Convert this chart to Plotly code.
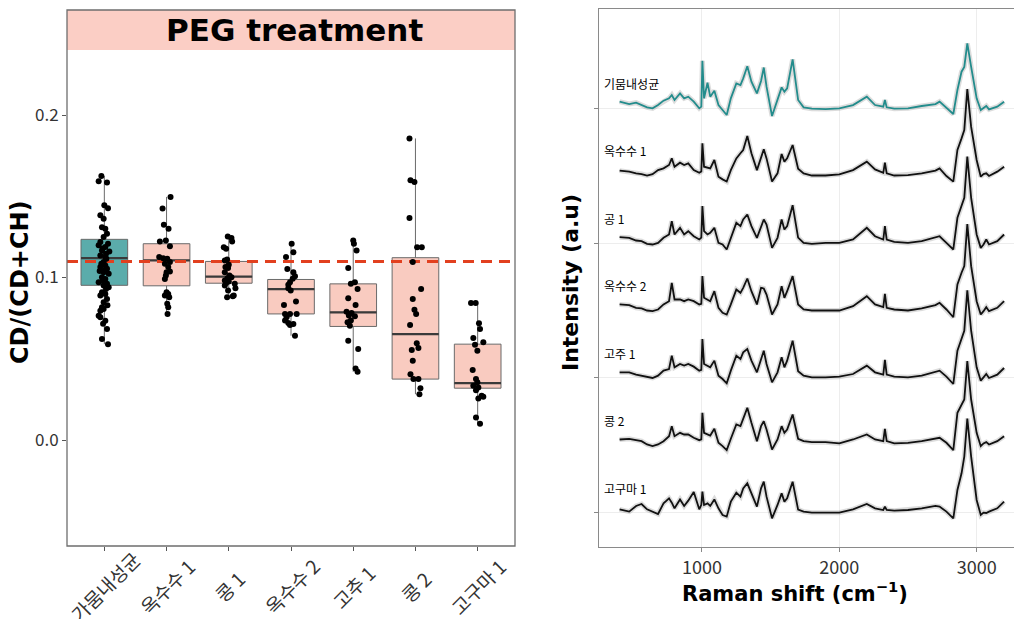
import plotly.graph_objects as go

W, H = 1014, 619

# ---------------- Left panel data (CD/(CD+CH)) ----------------
groups = ["가뭄내성균", "옥수수 1", "콩 1", "옥수수 2", "고추 1", "콩 2", "고구마 1"]
q1 = [0.0952, 0.0949, 0.0965, 0.0776, 0.0699, 0.0375, 0.0319]
median = [0.1119, 0.1105, 0.1006, 0.0928, 0.0786, 0.0652, 0.0350]
q3 = [0.1235, 0.1208, 0.1099, 0.0988, 0.0961, 0.1122, 0.0590]
lower_whisker = [0.0590, 0.0776, 0.0879, 0.0642, 0.0420, 0.0282, 0.0101]
upper_whisker = [0.1625, 0.1496, 0.1253, 0.1208, 0.1228, 0.1856, 0.0844]
threshold = 0.1098

vals_1 = [0.1625, 0.1593, 0.1585, 0.1444, 0.1427, 0.1383, 0.1362, 0.1310, 0.1300, 0.1270,
          0.1249, 0.1218, 0.1208, 0.1198, 0.1188, 0.1167, 0.1146, 0.1136, 0.1126, 0.1095,
          0.1074, 0.1064, 0.1054, 0.1033, 0.1023, 0.1002, 0.0991, 0.0971, 0.0961, 0.0951,
          0.0940, 0.0909, 0.0899, 0.0889, 0.0868, 0.0848, 0.0817, 0.0796, 0.0807, 0.0765,
          0.0734, 0.0755, 0.0683, 0.0621, 0.0590, 0.1178, 0.1115, 0.1085, 0.1043, 0.0981,
          0.0930, 0.1160, 0.1040, 0.0830, 0.0715]
jit_1 = [-0.048, -0.091, 0.043, 0.000, 0.059, -0.064, -0.011, -0.038, 0.016, 0.043,
         -0.011, -0.064, 0.059, -0.091, 0.016, -0.038, 0.027, -0.064, 0.016, -0.011,
         0.016, -0.064, 0.043, -0.011, 0.070, -0.038, 0.016, -0.091, 0.043, -0.011,
         0.070, -0.038, 0.016, -0.064, 0.043, -0.011, -0.038, -0.064, -0.011, -0.091,
         0.016, -0.064, 0.043, -0.038, 0.059, -0.027, 0.032, -0.048, 0.005, -0.027,
         0.027, 0.080, -0.075, 0.050, -0.020]

vals_2 = [0.1496, 0.1424, 0.1325, 0.1300, 0.1228, 0.1222, 0.1193, 0.1126, 0.1119, 0.1115,
          0.1095, 0.1084, 0.1064, 0.1033, 0.1037, 0.1012, 0.0991, 0.0909, 0.0899, 0.0889,
          0.0879, 0.0838, 0.0817, 0.0776]
jit_2 = [0.064, -0.064, -0.043, 0.032, -0.011, -0.107, 0.054, -0.118, -0.054, 0.011,
         0.054, -0.027, 0.027, 0.000, 0.054, -0.011, -0.027, 0.000, 0.027, -0.027,
         0.043, 0.011, 0.027, 0.016]

vals_3 = [0.1253, 0.1243, 0.1222, 0.1187, 0.1177, 0.1105, 0.1111, 0.1078, 0.1064, 0.1058,
          0.1033, 0.1012, 0.1002, 0.0996, 0.0981, 0.0975, 0.0967, 0.0961, 0.0951, 0.0934,
          0.0920, 0.0879, 0.0885, 0.0889]
jit_3 = [-0.016, 0.043, 0.054, -0.080, -0.043, -0.064, -0.027, 0.000, -0.054, -0.011,
         -0.064, 0.011, 0.043, -0.021, -0.064, 0.000, -0.043, 0.096, -0.064, 0.107,
         -0.011, -0.027, 0.064, 0.080]

vals_4 = [0.1208, 0.1156, 0.1126, 0.1053, 0.1033, 0.1008, 0.0992, 0.0971, 0.0955, 0.0934,
          0.0920, 0.0852, 0.0831, 0.0776, 0.0776, 0.0776, 0.0755, 0.0735, 0.0720, 0.0714,
          0.0708, 0.0642]
jit_4 = [0.011, 0.038, -0.080, -0.059, 0.038, 0.064, 0.027, -0.016, -0.043, -0.043,
         -0.005, 0.080, -0.113, -0.096, -0.016, 0.091, -0.070, -0.096, -0.043, 0.038,
         -0.016, 0.064]

vals_5 = [0.1228, 0.1208, 0.1167, 0.1058, 0.0971, 0.0961, 0.0930, 0.0872, 0.0831, 0.0790,
          0.0782, 0.0766, 0.0762, 0.0735, 0.0725, 0.0704, 0.0611, 0.0560, 0.0440, 0.0420]
jit_5 = [0.000, 0.011, 0.054, -0.080, 0.027, -0.038, 0.070, -0.080, 0.038, -0.107,
         -0.027, -0.070, 0.027, -0.038, -0.091, -0.054, -0.080, 0.080, 0.038, 0.070]

vals_6 = [0.1856, 0.1599, 0.1588, 0.1366, 0.1187, 0.1187, 0.1095, 0.0930, 0.0868, 0.0801,
          0.0776, 0.0708, 0.0595, 0.0566, 0.0554, 0.0488, 0.0405, 0.0375, 0.0375, 0.0319,
          0.0282]
jit_6 = [-0.096, -0.080, -0.016, -0.096, 0.027, 0.102, -0.043, 0.091, -0.043, -0.016,
         0.011, -0.086, 0.021, 0.048, -0.059, -0.043, -0.080, -0.032, 0.048, 0.080,
         0.064]

vals_7 = [0.0844, 0.0844, 0.0719, 0.0684, 0.0628, 0.0602, 0.0587, 0.0550, 0.0431, 0.0375,
          0.0355, 0.0334, 0.0323, 0.0307, 0.0272, 0.0266, 0.0256, 0.0138, 0.0101]
jit_7 = [-0.107, -0.032, 0.021, 0.038, -0.070, 0.091, -0.043, -0.005, -0.080, -0.027,
         -0.005, -0.070, 0.011, -0.027, 0.064, 0.091, 0.011, -0.027, 0.038]

point_vals = [vals_1, vals_2, vals_3, vals_4, vals_5, vals_6, vals_7]
point_jit = [jit_1, jit_2, jit_3, jit_4, jit_5, jit_6, jit_7]

# ---------------- Right panel data (Raman spectra) ----------------
raman_shift = [400, 470, 520, 560, 600, 640, 680, 720, 760, 780, 800, 840, 870, 900, 940, 980,
               995, 1003, 1015, 1040, 1060, 1090, 1120, 1150, 1180, 1210,
               1250, 1280, 1300, 1330, 1360, 1400, 1430, 1450, 1470, 1510,
               1550, 1580, 1600, 1620, 1660, 1700, 1740, 1800, 1900, 2000,
               2100, 2200, 2260, 2320, 2332, 2345, 2400, 2500, 2600, 2700,
               2730, 2780, 2830, 2860, 2890, 2910, 2932, 2960, 3000, 3030,
               3050, 3070, 3090, 3150, 3200]

spec_names = ["기뭄내성균", "옥수수 1", "공 1", "옥수수 2", "고주 1", "콩 2", "고구마 1"]
spec_offsets = [6, 5, 4, 3, 2, 1, 0]

spec_drought = [0.094, 0.059, 0.079, 0.044, 0.010, -0.005, 0.044, 0.109, 0.143, 0.193, 0.119, 0.217, 0.143, 0.168, 0.094, -0.005,
                0.020, 0.700, 0.143, 0.375, 0.168, 0.257, 0.044, -0.030, -0.104, 0.143,
                0.365, 0.340, 0.440, 0.620, 0.390, 0.217, 0.400, 0.600, 0.316, -0.119,
                0.119, 0.306, 0.242, 0.291, 0.720, 0.120, 0.010, -0.010, -0.015, -0.005,
                0.044, 0.168, 0.044, 0.020, 0.119, 0.010, -0.010, -0.005, 0.030, 0.059,
                0.094, -0.005, -0.089, 0.267, 0.538, 0.610, 0.958, 0.610, 0.143, -0.030,
                -0.005, 0.030, -0.020, 0.020, 0.094]
spec_corn1 = [0.072, 0.057, 0.032, 0.022, 0.000, 0.020, 0.080, 0.106, 0.156, 0.254, 0.130, 0.190, 0.156, 0.180, 0.080, 0.040,
              0.060, 0.477, 0.130, 0.120, 0.106, 0.230, -0.017, -0.057, -0.090, 0.080,
              0.254, 0.330, 0.378, 0.585, 0.330, 0.080, 0.280, 0.388, 0.254, -0.090,
              0.032, 0.318, 0.205, 0.254, 0.452, 0.100, 0.032, 0.000, 0.000, 0.017,
              0.080, 0.205, 0.090, 0.040, 0.190, 0.032, 0.000, 0.007, 0.032, 0.072,
              0.106, -0.007, -0.090, 0.378, 0.550, 0.674, 1.280, 0.720, 0.230, -0.017,
              0.022, 0.032, -0.007, 0.057, 0.130]
spec_bean1 = [0.086, 0.077, 0.037, 0.027, -0.012, -0.022, 0.002, 0.077, 0.126, 0.323, 0.126, 0.225, 0.126, 0.175, 0.100, 0.052,
              0.080, 0.546, 0.175, 0.126, 0.150, 0.225, 0.002, -0.022, -0.096, 0.077,
              0.299, 0.250, 0.348, 0.422, 0.250, 0.077, 0.225, 0.348, 0.274, -0.072,
              0.077, 0.348, 0.200, 0.250, 0.560, 0.080, 0.002, -0.012, 0.002, 0.002,
              0.052, 0.225, 0.100, 0.052, 0.250, 0.052, 0.017, 0.002, 0.027, 0.077,
              0.100, 0.002, -0.096, 0.373, 0.570, 0.670, 1.280, 0.670, 0.126, -0.072,
              -0.022, 0.052, -0.022, 0.027, 0.126]
spec_corn2 = [0.090, 0.080, 0.040, 0.030, 0.000, -0.010, 0.015, 0.090, 0.138, 0.410, 0.163, 0.163, 0.138, 0.163, 0.138, 0.090,
              0.100, 0.510, 0.188, 0.163, 0.138, 0.286, 0.040, -0.035, -0.060, 0.090,
              0.310, 0.262, 0.336, 0.474, 0.286, 0.090, 0.336, 0.326, 0.237, -0.060,
              0.090, 0.360, 0.188, 0.286, 0.510, 0.090, 0.015, 0.000, 0.000, 0.000,
              0.064, 0.212, 0.090, 0.050, 0.247, 0.040, 0.015, 0.000, 0.030, 0.080,
              0.114, 0.015, -0.100, 0.385, 0.560, 0.657, 1.280, 0.657, 0.138, -0.060,
              -0.010, 0.050, -0.010, 0.040, 0.138]
spec_pepper1 = [0.084, 0.084, 0.050, 0.035, 0.010, 0.000, 0.035, 0.109, 0.133, 0.331, 0.158, 0.207, 0.183, 0.207, 0.168, 0.109,
                0.120, 0.578, 0.207, 0.183, 0.158, 0.257, 0.035, -0.015, -0.079, 0.109,
                0.331, 0.281, 0.380, 0.430, 0.257, 0.084, 0.257, 0.405, 0.207, -0.064,
                0.084, 0.306, 0.158, 0.257, 0.553, 0.100, 0.035, 0.010, 0.010, 0.020,
                0.059, 0.183, 0.084, 0.050, 0.267, 0.050, 0.020, 0.010, 0.035, 0.084,
                0.109, 0.020, -0.089, 0.405, 0.600, 0.700, 1.300, 0.700, 0.158, -0.040,
                0.010, 0.059, 0.000, 0.050, 0.148]
spec_bean2 = [0.089, 0.099, 0.079, 0.064, 0.015, -0.010, 0.015, 0.064, 0.138, 0.286, 0.138, 0.188, 0.163, 0.163, 0.114, 0.079,
              0.090, 0.484, 0.188, 0.163, 0.148, 0.247, 0.040, -0.010, -0.069, 0.099,
              0.311, 0.286, 0.385, 0.558, 0.336, 0.064, 0.286, 0.360, 0.237, -0.059,
              0.089, 0.286, 0.188, 0.237, 0.459, 0.100, 0.064, 0.049, 0.049, 0.030,
              0.089, 0.163, 0.089, 0.064, 0.247, 0.064, 0.030, 0.040, 0.064, 0.099,
              0.114, 0.040, -0.069, 0.484, 0.607, 0.681, 1.250, 0.681, 0.188, -0.010,
              0.030, 0.049, 0.015, 0.064, 0.138]
spec_sweetpotato1 = [0.054, 0.020, 0.104, 0.133, 0.054, 0.020, -0.015, 0.143, 0.217, 0.153, 0.069, 0.200, 0.104, 0.183, 0.311, 0.054,
                     0.120, 0.316, 0.119, 0.143, 0.104, 0.200, 0.069, -0.030, -0.054, 0.168,
                     0.301, 0.242, 0.365, 0.440, 0.291, 0.094, 0.365, 0.464, 0.242, -0.079,
                     0.119, 0.291, 0.168, 0.217, 0.464, 0.050, 0.020, 0.005, 0.005, 0.005,
                     0.054, 0.133, 0.069, 0.044, 0.094, 0.044, 0.035, 0.044, 0.069, 0.104,
                     0.094, 0.020, -0.079, 0.341, 0.588, 0.835, 1.400, 0.835, 0.193, -0.030,
                     0.005, 0.000, 0.020, 0.069, 0.168]

spectra = [spec_drought, spec_corn1, spec_bean1, spec_corn2, spec_pepper1, spec_bean2, spec_sweetpotato1]

# ---------------- styling ----------------
TEAL_FILL = "#5BACAB"
PINK_FILL = "#F9CBC0"
STRIP_FILL = "#FBCEC5"
TEAL_LINE = "#238C8C"
BOX_W = 0.75
LEFT_XRANGE = [-0.6, 6.6]
LEFT_YRANGE = [-0.0652, 0.2400]
RIGHT_XRANGE = [250, 3272]
RIGHT_YRANGE = [-0.504, 7.467]
KFONT = "Noto Sans CJK KR"
BFONT = "DejaVu Sans"


def px(x):
    return x / W


def py(y):
    return 1 - y / H


fig = go.Figure()

# boxes
for i, g in enumerate(groups):
    fig.add_trace(go.Box(
        x=[i], q1=[q1[i]], median=[median[i]], q3=[q3[i]],
        lowerfence=[lower_whisker[i]], upperfence=[upper_whisker[i]],
        width=BOX_W, whiskerwidth=0, boxpoints=False,
        fillcolor=TEAL_FILL if i == 0 else PINK_FILL,
        line=dict(color="#6A6A6A", width=1),
        xaxis="x", yaxis="y", showlegend=False, hoverinfo="skip"))
    fig.add_trace(go.Scatter(
        x=[i - BOX_W / 2, i + BOX_W / 2], y=[median[i], median[i]],
        mode="lines", line=dict(color="#3A3A3A", width=2.2),
        xaxis="x", yaxis="y", showlegend=False, hoverinfo="skip"))

# threshold dashed line
fig.add_trace(go.Scatter(
    x=LEFT_XRANGE, y=[threshold, threshold], mode="lines",
    line=dict(color="#E2401F", width=3, dash="11px,7px"),
    xaxis="x", yaxis="y", showlegend=False, hoverinfo="skip"))

# jittered points
for i in range(len(groups)):
    fig.add_trace(go.Scatter(
        x=[i + j for j in point_jit[i]], y=point_vals[i], mode="markers",
        marker=dict(color="black", size=6),
        xaxis="x", yaxis="y", showlegend=False, hoverinfo="skip"))

# spectra
for k, spec in enumerate(spectra):
    yv = [spec_offsets[k] + v for v in spec]
    fig.add_trace(go.Scatter(
        x=raman_shift, y=yv, mode="lines",
        line=dict(color="rgba(140,140,140,0.30)", width=5),
        xaxis="x2", yaxis="y2", showlegend=False, hoverinfo="skip"))
    fig.add_trace(go.Scatter(
        x=raman_shift, y=yv, mode="lines",
        line=dict(color=TEAL_LINE if k == 0 else "#111111", width=1.8),
        xaxis="x2", yaxis="y2", showlegend=False, hoverinfo="skip"))

annotations = []
# spectra labels
for k, name in enumerate(spec_names):
    annotations.append(dict(
        x=275, y=spec_offsets[k] + 0.37, xref="x2", yref="y2", text=name,
        showarrow=False, xanchor="left", yanchor="middle",
        font=dict(family=KFONT, size=12, color="#000000")))

# rotated category labels (centred under each tick)
for i, g in enumerate(groups):
    annotations.append(dict(
        x=i, y=py(586), xref="x", yref="paper", text=g, textangle=-45,
        showarrow=False, xanchor="center", yanchor="middle",
        font=dict(family=KFONT, size=19, color="#333333")))

# titles
annotations += [
    dict(x=px(294), y=py(30), xref="paper", yref="paper", text="<b>PEG treatment</b>",
         showarrow=False, xanchor="center", yanchor="middle",
         font=dict(family=BFONT, size=31, color="black")),
    dict(x=px(20), y=py(282), xref="paper", yref="paper", text="<b>CD/(CD+CH)</b>",
         textangle=-90, showarrow=False, xanchor="center", yanchor="middle",
         font=dict(family=BFONT, size=24, color="black")),
    dict(x=px(570), y=py(283), xref="paper", yref="paper", text="<b>Intensity (a.u)</b>",
         textangle=-90, showarrow=False, xanchor="center", yanchor="middle",
         font=dict(family=BFONT, size=22, color="black")),
    dict(x=px(795), y=py(592), xref="paper", yref="paper",
         text="<b>Raman shift (cm<sup>−1</sup>)</b>",
         showarrow=False, xanchor="center", yanchor="middle",
         font=dict(family=BFONT, size=21, color="black")),
]

shapes = [
    dict(type="rect", xref="paper", yref="paper", x0=px(67), x1=px(515), y0=py(50), y1=py(10),
         fillcolor=STRIP_FILL, line=dict(width=0), layer="below"),
    dict(type="rect", xref="paper", yref="paper", x0=px(67), x1=px(515), y0=py(546), y1=py(10),
         fillcolor="rgba(0,0,0,0)", line=dict(color="#6E6E6E", width=1.3), layer="above"),
]

fig.update_layout(
    width=W, height=H, margin=dict(l=0, r=0, t=0, b=0),
    paper_bgcolor="white", plot_bgcolor="white",
    shapes=shapes, annotations=annotations,
    xaxis=dict(domain=[px(67), px(515)], range=LEFT_XRANGE, showgrid=False, zeroline=False,
               tickvals=list(range(len(groups))), showticklabels=False,
               ticks="outside", ticklen=4, tickcolor="#555555", showline=False),
    yaxis=dict(domain=[py(546), py(50)], range=LEFT_YRANGE, showgrid=False, zeroline=False,
               tickvals=[0.0, 0.1, 0.2], ticktext=["0.0", "0.1", "0.2"],
               ticks="outside", ticklen=4, tickcolor="#555555",
               tickfont=dict(family=KFONT, size=17, color="#333333"), showline=False),
    xaxis2=dict(domain=[px(599), 1.0], range=RIGHT_XRANGE, anchor="y2",
                tickvals=[1000, 2000, 3000], ticks="outside", ticklen=4, tickcolor="#888888",
                tickfont=dict(family=KFONT, size=18, color="#333333"),
                showgrid=True, gridcolor="#EDEDED", gridwidth=1, zeroline=False,
                showline=True, linecolor="#8A8A8A", linewidth=1.3, mirror=True),
    yaxis2=dict(domain=[py(547), py(9)], range=RIGHT_YRANGE, anchor="x2",
                tickvals=[0, 2, 4, 6], showticklabels=False, ticks="outside", ticklen=4,
                tickcolor="#888888", showgrid=True, gridcolor="#EDEDED", gridwidth=1,
                zeroline=False, showline=True, linecolor="#8A8A8A", linewidth=1.3, mirror=False),
)

fig.write_html("out.html")
